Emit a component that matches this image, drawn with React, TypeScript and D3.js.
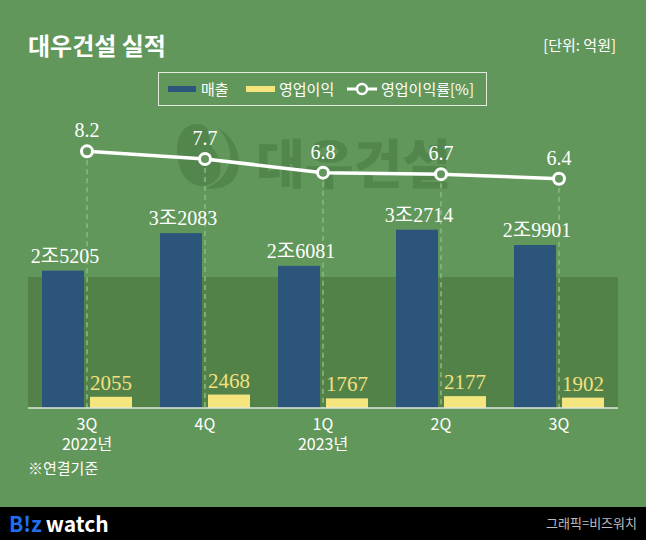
import React from "react";
import * as d3 from "d3";

const quarters = ["3Q", "4Q", "1Q", "2Q", "3Q"];
const years = ["2022년", "", "2023년", "", ""];
const sales = [25205, 32083, 26081, 32714, 29901];
const salesLabels = ["2조5205", "3조2083", "2조6081", "3조2714", "2조9901"];
const opProfit = [2055, 2468, 1767, 2177, 1902];
const opMargin = [8.2, 7.7, 6.8, 6.7, 6.4];

const W = 646;
const H = 540;
const BG = "#62975B";
const PANEL = "#538249";
const BLUE = "#2B557A";
const YELLOW = "#F4E57F";
const SANS = "'Noto Sans CJK KR', 'Noto Sans', sans-serif";
const SERIF = "'Liberation Serif', 'DejaVu Serif', 'Noto Sans CJK KR', serif";

export default function App() {
  const ids = quarters.map((_, i) => String(i));
  const x = d3.scaleBand<string>().domain(ids).range([28, 618]).padding(0);
  const inner = d3
    .scaleBand<string>()
    .domain(["sales", "op"])
    .range([-45, 45])
    .paddingInner(0.125)
    .paddingOuter(0);
  const yBar = d3.scaleLinear().domain([0, 40000]).range([408, 190]);
  const yRate = d3.scaleLinear().domain([0, 10]).range([276, 124]);
  const cx = (i: number) => (x(ids[i]) as number) + x.bandwidth() / 2;

  const line = d3
    .line<number>()
    .x((_, i) => cx(i))
    .y((d) => yRate(d));

  return (
    <svg
      width={W}
      height={H}
      style={{ position: "absolute", left: 0, top: 0, display: "block" }}
    >
      <rect x={0} y={0} width={W} height={H} fill={BG} />

      {/* Title */}
      <text x={28} y={55} fill="#fff" fontFamily={SANS} fontWeight={700} fontSize={24}>
        대우건설 실적
      </text>
      <text x={616} y={51} fill="#fff" fontFamily={SANS} fontSize={15} textAnchor="end">
        [단위: 억원]
      </text>

      {/* Legend */}
      <rect x={158.5} y={72.5} width={328} height={33} fill="none" stroke="#e4ece2" strokeWidth={1} />
      <rect x={168} y={86} width={28} height={6} fill={BLUE} />
      <text x={201} y={94.5} fill="#fff" fontFamily={SANS} fontSize={15}>매출</text>
      <rect x={246} y={86} width={29} height={6} fill={YELLOW} />
      <text x={279} y={94.5} fill="#fff" fontFamily={SANS} fontSize={15}>영업이익</text>
      <line x1={347} x2={377} y1={89} y2={89} stroke="#fff" strokeWidth={3} />
      <circle cx={362} cy={89} r={5} fill={BG} stroke="#fff" strokeWidth={2.5} />
      <text x={381} y={94.5} fill="#fff" fontFamily={SANS} fontSize={15}>영업이익률[%]</text>

      {/* Watermark */}
      <g fill="#4a7c44" opacity={0.6}>
        <path d="M196,124 C176,126 174,150 180,168 C186,186 204,190 214,182 C224,174 222,160 214,150 C206,140 214,124 196,124 Z" />
        <path d="M218,128 C236,138 244,160 236,176 C230,188 214,190 206,188 C222,182 232,168 230,152 C228,142 224,134 218,128 Z" />
        <text x={256} y={184} fontFamily={SANS} fontWeight={900} fontSize={53}>대우건설</text>
      </g>

      {/* Panel */}
      <rect x={28} y={277} width={590} height={131} fill={PANEL} />

      {/* Dashed guide lines */}
      {opMargin.map((v, i) => (
        <line
          key={"g" + i}
          x1={cx(i)}
          x2={cx(i)}
          y1={yRate(v)}
          y2={408}
          stroke="#8fb886"
          strokeWidth={1.5}
          strokeDasharray="5,4"
        />
      ))}

      {/* Bars */}
      {sales.map((v, i) => (
        <rect
          key={"s" + i}
          x={cx(i) + (inner("sales") as number)}
          y={yBar(v)}
          width={inner.bandwidth()}
          height={yBar(0) - yBar(v)}
          fill={BLUE}
        />
      ))}
      {opProfit.map((v, i) => (
        <rect
          key={"o" + i}
          x={cx(i) + (inner("op") as number)}
          y={yBar(v)}
          width={inner.bandwidth()}
          height={yBar(0) - yBar(v)}
          fill={YELLOW}
        />
      ))}

      {/* Baseline */}
      <line x1={28} x2={618} y1={408} y2={408} stroke="#dfe6dc" strokeWidth={1.5} />

      {/* Bar labels */}
      {sales.map((v, i) => (
        <text
          key={"sl" + i}
          x={cx(i) + (inner("sales") as number) + inner.bandwidth() / 2 + 2}
          y={yBar(v) - 8}
          fill="#fff"
          fontFamily={SERIF}
          fontSize={20}
          textAnchor="middle"
        >
          {salesLabels[i]}
        </text>
      ))}
      {opProfit.map((v, i) => (
        <text
          key={"ol" + i}
          x={cx(i) + (inner("op") as number) + inner.bandwidth() / 2}
          y={yBar(v) - 7}
          fill="#F3E07E"
          fontFamily={SERIF}
          fontSize={21}
          textAnchor="middle"
        >
          {d3.format("d")(v)}
        </text>
      ))}

      {/* Line */}
      <path d={line(opMargin) || ""} fill="none" stroke="#fff" strokeWidth={3.5} />
      {opMargin.map((v, i) => (
        <circle key={"c" + i} cx={cx(i)} cy={yRate(v)} r={5.5} fill={BG} stroke="#fff" strokeWidth={3} />
      ))}
      {opMargin.map((v, i) => (
        <text
          key={"rl" + i}
          x={cx(i)}
          y={yRate(v) - 14}
          fill="#fff"
          fontFamily={SERIF}
          fontSize={20}
          textAnchor="middle"
        >
          {d3.format(".1f")(v)}
        </text>
      ))}

      {/* X labels */}
      {quarters.map((q, i) => (
        <g key={"x" + i}>
          <text x={cx(i)} y={430} fill="#fff" fontFamily={SANS} fontSize={16} textAnchor="middle">
            {q}
          </text>
          {years[i] && (
            <text x={cx(i)} y={450} fill="#fff" fontFamily={SANS} fontSize={16} textAnchor="middle">
              {years[i]}
            </text>
          )}
        </g>
      ))}
      <text x={28} y={474} fill="#fff" fontFamily={SANS} fontSize={15}>
        ※연결기준
      </text>

      {/* Footer */}
      <rect x={0} y={507} width={W} height={33} fill="#000" />
      <text x={9} y={532} fontFamily={SANS} fontWeight={700} fontSize={21}>
        <tspan fill="#1f6ff0">B!z</tspan>
        <tspan fill="#fff" dx={4}>watch</tspan>
      </text>
      <text x={637} y={528} fill="#bdbdbd" fontFamily={SANS} fontSize={13} textAnchor="end">
        그래픽=비즈워치
      </text>
    </svg>
  );
}
